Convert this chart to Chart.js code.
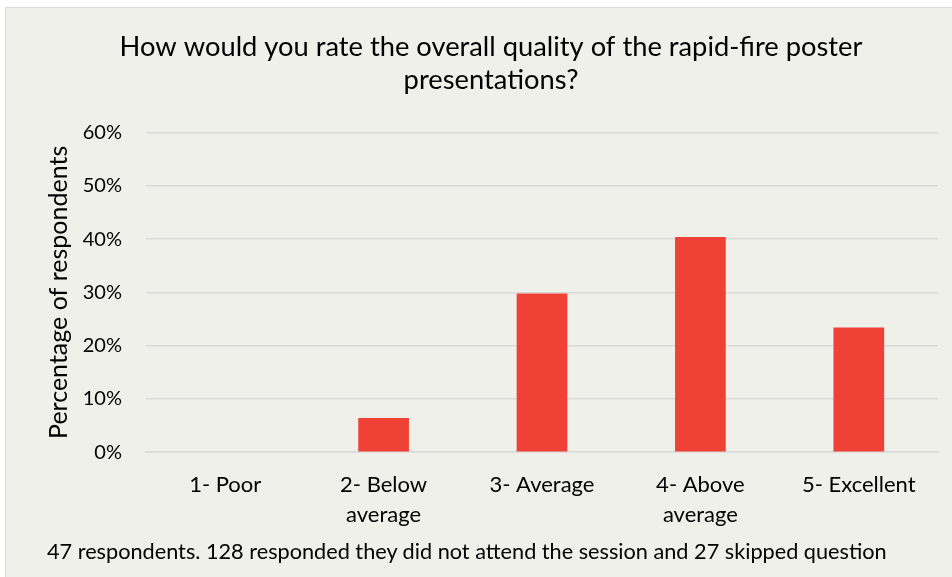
<!DOCTYPE html>
<html>
<head>
<meta charset="utf-8">
<script src="https://cdn.jsdelivr.net/npm/chart.js@4"></script>
<style>
  html, body { margin: 0; padding: 0; background: #ffffff; }
  #box {
    position: absolute; left: 5px; top: 7px; width: 952px; height: 575px;
    background: #f0f0eb; border: 1px solid #d9d9d9; box-sizing: border-box;
  }
  #note {
    position: absolute; left: 47px; top: 538px; color: #000;
    font-family: Lato, 'Open Sans', sans-serif; font-size: 21.7px; white-space: nowrap;
  }
</style>
</head>
<body>
<div id="box"><canvas id="barChart"></canvas></div>
<div id="note">47 respondents. 128 responded they did not attend the session and 27 skipped question</div>
<script>
// Rating categories and share of 47 respondents (percent)
const categories = [['1- Poor'], ['2- Below', 'average'], ['3- Average'], ['4- Above', 'average'], ['5- Excellent']];
const shares = [0, 6.4, 29.8, 40.4, 23.4];
const yTicks = [0, 10, 20, 30, 40, 50, 60];

const fontFam = "Lato, 'Open Sans', sans-serif";

const ctx = document.getElementById('barChart');
new Chart(ctx, {
  type: 'bar',
  data: {
    labels: categories,
    datasets: [{
      data: shares,
      backgroundColor: '#ef4136',
      barPercentage: 0.32,
      categoryPercentage: 1.0
    }]
  },
  options: {
    responsive: true,
    maintainAspectRatio: false,
    animation: false,
    layout: { padding: { left: 38, right: 18, top: 12, bottom: 33 } },
    plugins: {
      legend: { display: false },
      tooltip: { enabled: false },
      title: {
        display: true,
        text: ['How would you rate the overall quality of the rapid-fire poster', 'presentations?'],
        color: '#000',
        font: { family: fontFam, size: 27.3, weight: 'normal' },
        lineHeight: 1.38,
        padding: { top: 11, bottom: 36 }
      }
    },
    scales: {
      y: {
        min: 0,
        max: 60,
        afterBuildTicks: axis => { axis.ticks = yTicks.map(v => ({ value: v })); },
        afterFit: axis => { axis.width = 102; },
        grid: { color: '#d9d9d9', drawTicks: false, lineWidth: 1.5 },
        border: { display: false },
        ticks: {
          color: '#000',
          padding: 24,
          font: { family: fontFam, size: 20 },
          callback: v => v + '%'
        },
        title: {
          display: true,
          text: 'Percentage of respondents',
          color: '#000',
          font: { family: fontFam, size: 25 },
          padding: { top: 0, bottom: 8 }
        }
      },
      x: {
        grid: { display: false, drawTicks: false },
        border: { display: true, color: '#d9d9d9', width: 1.5 },
        ticks: {
          color: '#000',
          padding: 18,
          maxRotation: 0,
          font: { family: fontFam, size: 22, lineHeight: 1.36 }
        }
      }
    }
  }
});
</script>
</body>
</html>
